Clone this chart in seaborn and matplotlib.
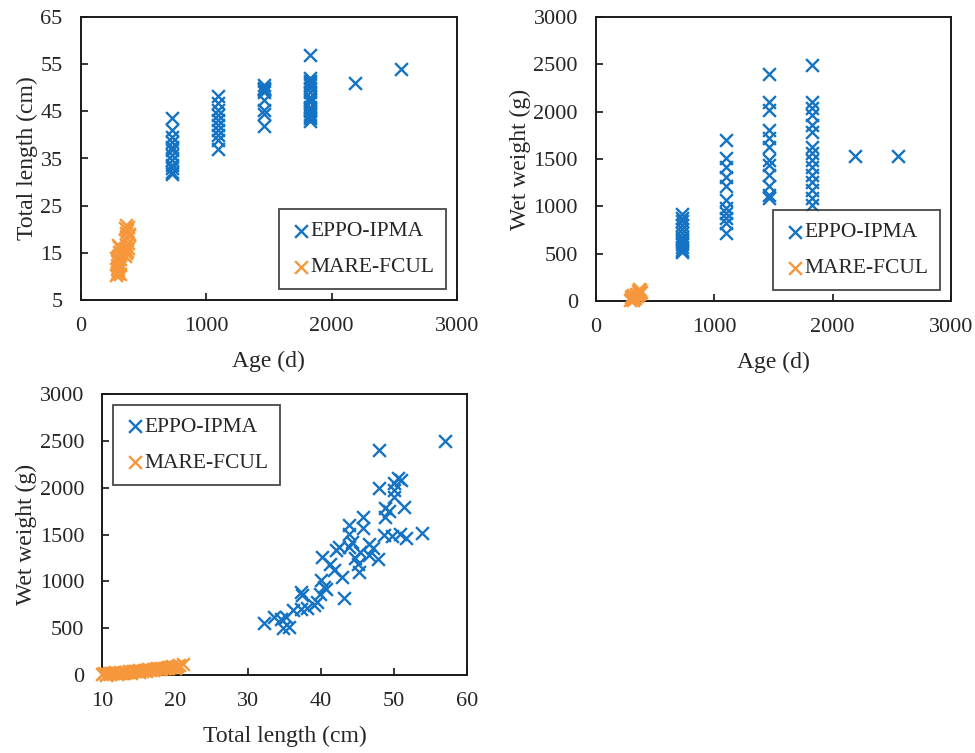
import matplotlib
matplotlib.use("Agg")
import matplotlib.pyplot as plt
import seaborn as sns

sns.set_style("white")
plt.rcParams['font.family'] = ['Liberation Serif', 'DejaVu Serif']

BLUE = '#1473C4'
ORANGE = '#F5973A'

# Panel 1: total length vs age, EPPO-IPMA
eppo_age_1 = ([730] * 12 + [1095] * 10 + [1460] * 9 + [1825] * 17 + [2190, 2555])
eppo_len_1 = [43.5, 41.0, 39.6, 38.6, 37.5, 36.8, 35.7, 34.7, 33.6, 32.9, 32.2, 31.8,
              48.3, 46.7, 45.3, 44.2, 43.2, 42.1, 41.0, 40.0, 38.9, 37.0,
              50.5, 50.0, 49.5, 49.0, 49.8, 47.5, 45.3, 44.5, 41.8,
              57.0, 52.0, 51.5, 51.0, 50.5, 50.0, 49.0, 48.0, 47.5, 47.0, 46.0,
              45.5, 45.0, 44.5, 44.0, 43.5, 43.0,
              51.0, 54.0]

# Panel 1: total length vs age, MARE-FCUL
mare_age_1 = [285, 290, 295, 300, 288, 305, 292, 310, 298, 315, 302, 320, 308, 295,
              290, 300, 310, 285, 315,
              350, 360, 372, 355, 365, 378, 352, 368, 382, 358, 370, 375, 362, 350,
              380, 345, 385]
mare_len_1 = [10.2, 10.8, 11.3, 11.9, 12.4, 12.8, 13.3, 13.7, 14.2, 14.6, 15.1, 15.6, 16.2, 16.6,
              11.5, 12.0, 10.5, 13.8, 12.5,
              14.3, 14.9, 15.4, 16.0, 16.6, 17.1, 17.7, 18.2, 18.8, 19.3, 19.9, 20.5, 21.0, 20.2,
              16.0, 15.5, 19.0]

# Panel 2: wet weight vs age, EPPO-IPMA
eppo_age_2 = ([730] * 13 + [1095] * 11 + [1460] * 12 + [1825] * 15 + [2190, 2555])
eppo_wt_2 = [920, 880, 850, 800, 760, 720, 680, 650, 620, 600, 570, 540, 520,
             1700, 1510, 1420, 1310, 1210, 1070, 980, 930, 875, 820, 715,
             2400, 2105, 2015, 1805, 1720, 1630, 1490, 1435, 1330, 1210, 1120, 1085,
             2495, 2105, 2035, 1965, 1860, 1790, 1630, 1560, 1490, 1420, 1330, 1260,
             1170, 1085, 1015,
             1530, 1530]

# Panel 2: wet weight vs age, MARE-FCUL
mare_age_2 = [290, 300, 310, 295, 305, 315, 300, 320, 310, 330, 350, 360, 345, 370,
              355, 365, 375, 340, 380, 360]
mare_wt_2 = [10, 25, 15, 40, 30, 20, 55, 45, 65, 35, 60, 75, 50, 90, 105, 80, 120, 70, 95, 125]

# Panel 3: wet weight vs total length, EPPO-IPMA
eppo_len_3 = [57.0, 48.0, 48.0, 50.0, 50.5, 51.0, 50.0, 50.0, 48.8, 51.3, 48.8,
              53.8, 50.8, 51.7, 49.7, 48.6, 45.8, 45.8, 43.8, 43.8, 42.4, 43.8,
              46.5, 47.1, 45.3, 46.5, 45.0, 45.2, 40.1, 41.7, 42.8, 40.0, 40.4,
              39.8, 40.7, 43.2, 37.2, 37.4, 39.0, 39.4, 37.2, 38.1, 36.1, 35.2,
              35.6, 34.5, 33.6, 32.2, 34.8, 44.2, 41.2, 47.8, 49.3, 42.0, 44.7]
eppo_wt_3 = [2500, 2400, 2000, 2050, 2100, 2080, 1970, 1900, 1780, 1790, 1690,
             1520, 1510, 1460, 1480, 1490, 1690, 1565, 1600, 1510, 1370, 1370,
             1400, 1360, 1310, 1280, 1190, 1100, 1260, 1120, 1050, 1010, 940,
             870, 920, 820, 890, 855, 750, 780, 705, 720, 690, 620,
             515, 600, 620, 555, 500, 1420, 1180, 1240, 1750, 1330, 1250]

# Panel 3: wet weight vs total length, MARE-FCUL
mare_len_3 = [10.0, 10.3, 10.6, 10.9, 11.2, 11.5, 11.8, 12.1, 12.4, 12.7, 13.0,
              13.3, 13.6, 13.9, 14.2, 14.5, 14.8, 15.1, 15.4, 15.7, 16.0,
              16.3, 16.6, 16.9, 17.2, 17.5, 17.8, 18.1, 18.4, 18.7, 19.0,
              19.3, 19.6, 19.9, 20.2, 20.5, 21.0,
              10.5, 11.0, 12.0, 13.0, 14.0, 15.0, 16.0, 17.0, 18.0, 19.0, 20.0]
mare_wt_3 = [12, 20, 15, 25, 18, 22, 28, 20, 30, 26, 35,
             30, 38, 34, 42, 38, 45, 50, 44, 55, 52,
             60, 58, 66, 62, 72, 68, 76, 80, 74, 86,
             82, 92, 88, 98, 105, 115,
             5, 10, 14, 20, 24, 32, 40, 50, 60, 70, 80]

W, H = 975, 753
fig = plt.figure(figsize=(W / 100, H / 100), dpi=100)


def px_axes(left, top, right, bottom):
    return fig.add_axes([left / W, 1 - bottom / H, (right - left) / W, (bottom - top) / H])


def style(ax):
    for side in ['top', 'right', 'bottom', 'left']:
        ax.spines[side].set_visible(True)
        ax.spines[side].set_color('#1a1a1a')
        ax.spines[side].set_linewidth(1.4)
    ax.tick_params(direction='in', length=5, width=1.3, labelsize=16,
                   top=False, right=False, bottom=True, left=True)
    ax.tick_params(axis='x', pad=12)
    ax.tick_params(axis='y', pad=13)


def draw(ax, x1, y1, x2, y2, loc):
    sns.scatterplot(x=x1, y=y1, marker='x', s=85, color=BLUE, linewidth=1.7,
                    ax=ax, label='EPPO-IPMA', clip_on=False, zorder=3)
    sns.scatterplot(x=x2, y=y2, marker='x', s=85, color=ORANGE, linewidth=1.7,
                    ax=ax, label='MARE-FCUL', clip_on=False, zorder=3)
    lg = ax.legend(loc=loc, fontsize=15.5, frameon=True, fancybox=False,
                   handletextpad=0.0, borderpad=0.55, labelspacing=0.75,
                   handlelength=0.9, borderaxespad=0.5)
    lg.get_frame().set_edgecolor('#1a1a1a')
    lg.get_frame().set_linewidth(1.3)
    style(ax)


ax1 = px_axes(80.7, 17, 457, 300)
draw(ax1, eppo_age_1, eppo_len_1, mare_age_1, mare_len_1, 'lower right')
ax1.set_xlim(0, 3000)
ax1.set_ylim(5, 65)
ax1.set_xticks([0, 1000, 2000, 3000])
ax1.set_yticks([5, 15, 25, 35, 45, 55, 65])
ax1.set_xlabel('Age (d)', fontsize=17, labelpad=11)
ax1.set_ylabel('Total length (cm)', fontsize=17, labelpad=2)

ax2 = px_axes(596, 17, 951, 301)
draw(ax2, eppo_age_2, eppo_wt_2, mare_age_2, mare_wt_2, 'lower right')
ax2.set_xlim(0, 3000)
ax2.set_ylim(0, 3000)
ax2.set_xticks([0, 1000, 2000, 3000])
ax2.set_yticks([0, 500, 1000, 1500, 2000, 2500, 3000])
ax2.set_xlabel('Age (d)', fontsize=17, labelpad=11)
ax2.set_ylabel('Wet weight (g)', fontsize=17, labelpad=2)

ax3 = px_axes(102.3, 394, 467, 675)
draw(ax3, eppo_len_3, eppo_wt_3, mare_len_3, mare_wt_3, 'upper left')
ax3.set_xlim(10, 60)
ax3.set_ylim(0, 3000)
ax3.set_xticks([10, 20, 30, 40, 50, 60])
ax3.set_yticks([0, 500, 1000, 1500, 2000, 2500, 3000])
ax3.set_xlabel('Total length (cm)', fontsize=17, labelpad=11)
ax3.set_ylabel('Wet weight (g)', fontsize=17, labelpad=2)

fig.savefig('out.png', dpi=100)
